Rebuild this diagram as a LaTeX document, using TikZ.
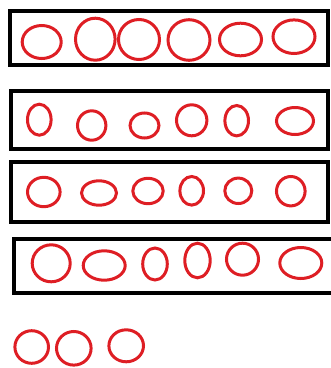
\documentclass[tikz,border=0pt]{standalone}
\usetikzlibrary{shapes.geometric}
\definecolor{ovred}{RGB}{222,30,36}
\tikzset{
  frame/.style={draw=black,line width=4pt},
  ov/.style={draw=ovred,line width=3pt,ellipse,inner sep=0pt,outer sep=0pt}
}
\newcommand\myov[5]{\node[ov,minimum width=#4pt,minimum height=#5pt] (#1) at (#2,#3) {};}
\begin{document}
\begin{tikzpicture}[x=1pt,y=-1pt]
\useasboundingbox (0,0) rectangle (331,368);
% boxes
\draw[frame] (10.5,10.5) rectangle (328,64.7);
\draw[frame] (11,90.8) rectangle (328,148.7);
\draw[frame] (11,162) rectangle (328,221.5);
\draw[frame] (14.5,239) rectangle (345,292.5);
% row 1
\myov{a1}{41.7}{42}{39}{33}
\myov{a2}{95.3}{39.2}{39.6}{42}
\myov{a3}{139}{39.5}{41}{40}
\myov{a4}{189}{40}{42}{40.6}
\myov{a5}{240.5}{39.5}{42}{32.6}
\myov{a6}{294}{36.7}{42}{33.6}
% row 2
\myov{b1}{39.3}{119.7}{23.6}{31}
\myov{b2}{91.7}{125.5}{28.4}{29.4}
\myov{b3}{144.5}{125.5}{29}{25}
\myov{b4}{191.7}{120.3}{30.4}{31}
\myov{b5}{236.7}{120.7}{23.6}{30.4}
\myov{b6}{295}{121}{37}{27}
% row 3
\myov{c1}{43.8}{192}{32.6}{29.4}
\myov{c2}{99}{193}{35}{24.4}
\myov{c3}{148}{191}{30.4}{25.4}
\myov{c4}{191.7}{190.8}{23.6}{28.6}
\myov{c5}{238.3}{190.8}{27}{25.4}
\myov{c6}{290.8}{191.2}{28.6}{29.4}
% row 4
\myov{d1}{51.2}{263.3}{38}{37}
\myov{d2}{104.2}{265.5}{42}{29.4}
\myov{d3}{155}{264}{24.6}{32}
\myov{d4}{197.5}{260.5}{25.4}{34.6}
\myov{d5}{242.5}{259.2}{32}{32}
\myov{d6}{300.8}{263}{42}{31}
% loose
\myov{e1}{31.7}{347}{33.6}{32.6}
\myov{e2}{73.8}{348.3}{34.6}{33.6}
\myov{e3}{126.2}{345.8}{34.6}{32}
\end{tikzpicture}
\end{document}
